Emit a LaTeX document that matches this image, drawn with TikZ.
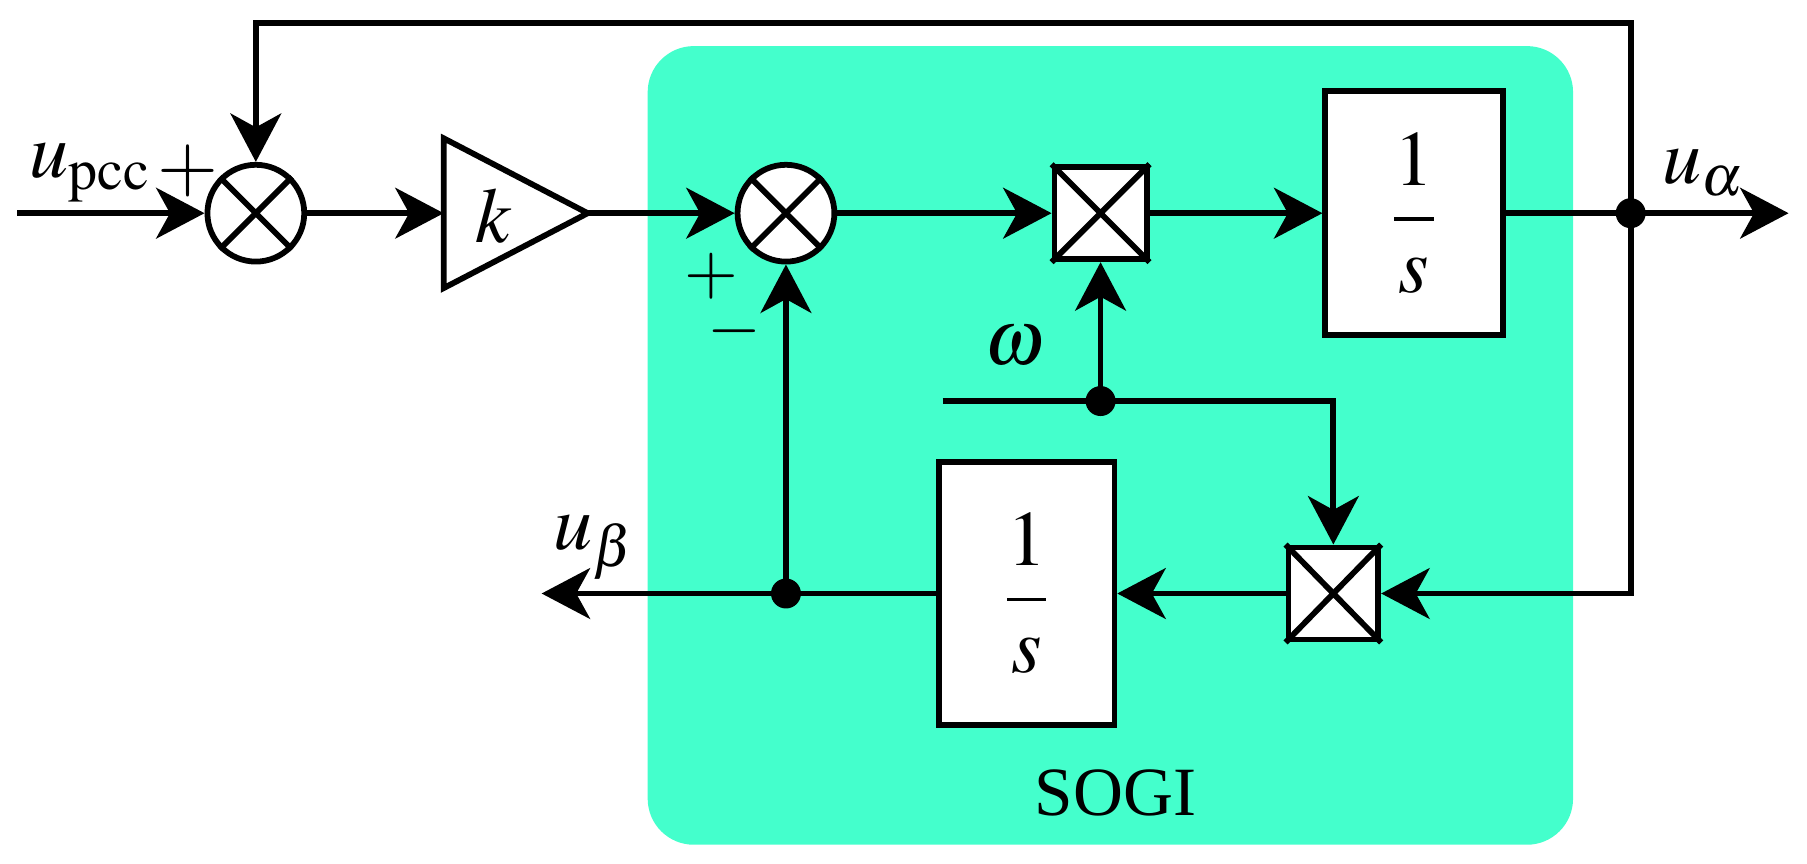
\documentclass[tikz,border=0pt]{standalone}
\usepackage{mathptmx}
\usepackage{fontspec}
\setmainfont{Liberation Serif}
\usetikzlibrary{arrows.meta}
\definecolor{sogi}{RGB}{68,255,204}
\begin{document}
\begin{tikzpicture}[x=0.5pt,y=-0.5pt,
  ln/.style={line width=2.5pt},
  arr/.style={ln,-{Stealth[length=21pt,width=22pt,inset=6pt]}},
  blk/.style={draw,line width=2.5pt,fill=white,inner sep=0pt},
  sum/.style={draw,line width=2.5pt,fill=white,circle,minimum size=42pt,inner sep=0pt},
  dot/.style={circle,fill=black,minimum size=13pt,inner sep=0pt},
  lbl/.style={font=\fontsize{34}{38}\selectfont},
  sml/.style={font=\fontsize{30}{34}\selectfont}]
\useasboundingbox (0,0) rectangle (1568,749);
\fill[sogi,rounded corners=20pt] (562,40) rectangle (1365,733);
\node[sml] (sg) at (968,688) {SOGI};
% nodes
\node[sum] (s1) at (222,185) {};
\draw[ln] (s1.north west)--(s1.south east) (s1.north east)--(s1.south west);
\node[sum] (s2) at (682,185) {};
\draw[ln] (s2.north west)--(s2.south east) (s2.north east)--(s2.south west);
\draw[ln,fill=white] (385,120)--(510,185)--(385,250)--cycle;
\coordinate (kin) at (385,185); \coordinate (kout) at (510,185);
\node[lbl] (k) at (428,187) {$k$};
\node[blk,minimum width=40pt,minimum height=40pt] (m1) at (955,185) {};
\draw[ln] (m1.north west)--(m1.south east) (m1.north east)--(m1.south west);
\node[blk,minimum width=39pt,minimum height=40pt] (m2) at (1157,515) {};
\draw[ln] (m2.north west)--(m2.south east) (m2.north east)--(m2.south west);
\node[blk,minimum width=77pt,minimum height=106pt,lbl] (i1) at (1227,185) {$\displaystyle\frac{1}{s}$};
\node[blk,minimum width=76pt,minimum height=114pt,lbl] (i2) at (891,515) {$\displaystyle\frac{1}{s}$};
\node[dot] (da) at (1415,185) {};
\node[dot] (dw) at (955,348) {};
\node[dot] (db) at (682,515) {};
\coordinate (in) at (15,185);
\coordinate (out) at (1552,185);
\coordinate (ub) at (470,515);
\coordinate (w0) at (818,348);
\coordinate (tl) at (222,20);
\coordinate (tr) at (1415,20);
\coordinate (br) at (1415,515);
\coordinate (wr) at (1157,348);
% connectors
\draw[arr] (in)--(s1.west);
\draw[arr] (s1.east)--(kin);
\draw[arr] (kout)--(s2.west);
\draw[arr] (s2.east)--(m1.west);
\draw[arr] (m1.east)--(i1.west);
\draw[ln] (i1.east)--(da.center);
\draw[arr] (da.center)--(out);
\draw[arr] (da.center)--(tr)--(tl)--(s1.north);
\draw[arr] (da.center)--(br)--(m2.east);
\draw[arr] (m2.west)--(i2.east);
\draw[ln] (i2.west)--(db.center);
\draw[arr] (db.center)--(ub);
\draw[arr] (db.center)--(s2.south);
\draw[ln] (w0)--(dw.center);
\draw[arr] (dw.center)--(m1.south);
\draw[arr] (dw.center)--(wr)--(m2.north);
% labels
\node[lbl] (lpcc) at (78,150) {$u_{\mathrm{pcc}}$};
\node[lbl] (lp1) at (163,148) {$+$};
\node[lbl] (la) at (1478,150) {$u_{\alpha}$};
\node[lbl] (lb) at (515,475) {$u_{\beta}$};
\node[lbl] (lw) at (880,300) {$\omega$};
\node[sml,inner sep=0pt] (lp2) at (617,240) {$+$};
\node[sml,inner sep=0pt] (lm2) at (637,287) {$-$};
\end{tikzpicture}
\end{document}
